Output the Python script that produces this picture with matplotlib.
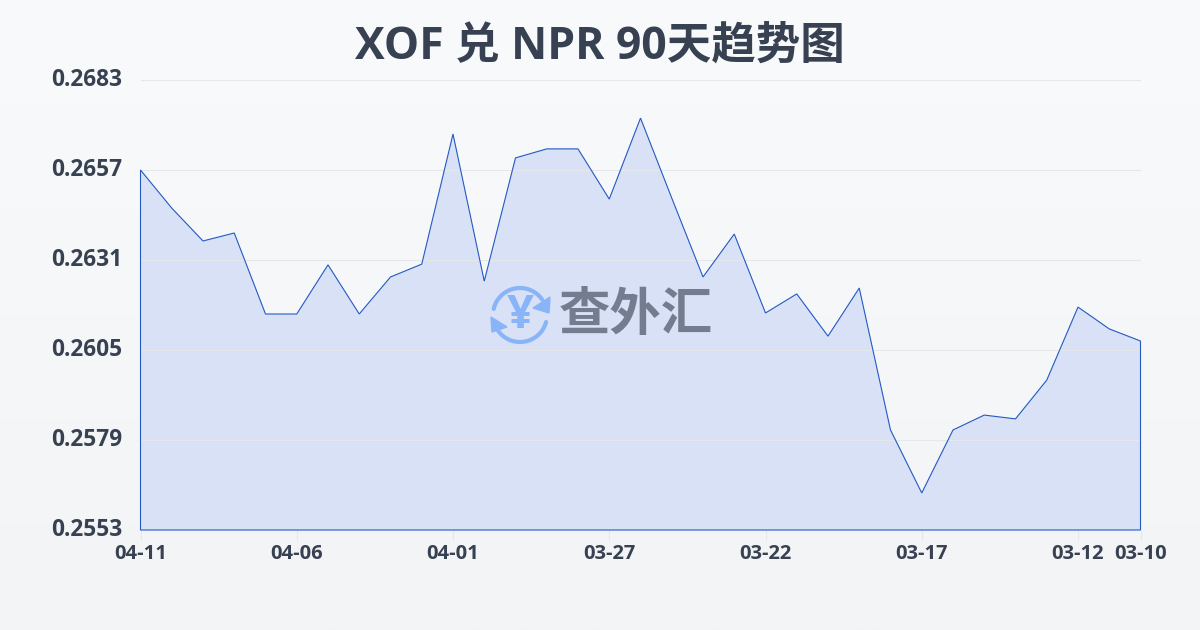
import numpy as np
import matplotlib
matplotlib.use("Agg")
import matplotlib.pyplot as plt
from matplotlib.patches import Polygon
from matplotlib.transforms import ScaledTranslation

plt.rcParams["font.family"] = ["Open Sans", "Noto Sans CJK SC", "DejaVu Sans"]

title = "XOF 兑 NPR 90天趋势图"
dates = ["04-11", "04-10", "04-09", "04-08", "04-07", "04-06", "04-05", "04-04", "04-03", "04-02",
         "04-01", "03-31", "03-30", "03-29", "03-28", "03-27", "03-26", "03-25", "03-24", "03-23",
         "03-22", "03-21", "03-20", "03-19", "03-18", "03-17", "03-16", "03-15", "03-14", "03-13",
         "03-12", "03-11", "03-10"]
rates = [0.26570, 0.26460, 0.26365, 0.26388, 0.26154, 0.26154, 0.26296, 0.26154, 0.26261, 0.26298,
         0.26674, 0.26249, 0.26605, 0.26631, 0.26631, 0.26486, 0.26720, 0.26489, 0.26261, 0.26385,
         0.26157, 0.26212, 0.26090, 0.26229, 0.25819, 0.25637, 0.25819, 0.25862, 0.25851, 0.25963,
         0.26174, 0.26111, 0.26076]
y_ticks = [0.2553, 0.2579, 0.2605, 0.2631, 0.2657, 0.2683]
x_tick_labels = ["04-11", "04-06", "04-01", "03-27", "03-22", "03-17", "03-12", "03-10"]

W, H = 1200, 630
fig = plt.figure(figsize=(12, 6.3), dpi=100)

# page background gradient
bg = fig.add_axes([0, 0, 1, 1], zorder=0)
bg.imshow(np.linspace(0, 1, 256).reshape(-1, 1), aspect="auto", extent=[0, 1, 0, 1],
          cmap=matplotlib.colors.LinearSegmentedColormap.from_list("bg", ["#f9fafb", "#f3f4f6"]))
bg.axis("off")

ax = fig.add_axes([140.5 / W, 1 - 530 / H, 1000 / W, 450 / H], zorder=1)
ax.patch.set_alpha(0)
x = np.arange(len(rates))

# area with vertical gradient, clipped to the series outline
outline = np.column_stack([np.r_[x[0], x, x[-1]], np.r_[y_ticks[0], rates, y_ticks[0]]])
poly = Polygon(outline, closed=True, facecolor="none", edgecolor="none", transform=ax.transData)
ax.add_patch(poly)
fill_cmap = matplotlib.colors.LinearSegmentedColormap.from_list("fill", ["#d8e2f7", "#d9e1f5"])
im = ax.imshow(np.linspace(0, 1, 256).reshape(-1, 1), aspect="auto", cmap=fill_cmap, zorder=1,
               extent=[x[0], x[-1], y_ticks[0], y_ticks[-1]])
im.set_clip_path(poly)
ax.set_xlim(0, len(rates) - 1)
ax.set_ylim(y_ticks[0], y_ticks[-1])

ax.grid(axis="y", color="#e5e7eb", linewidth=0.8, zorder=2)
ax.set_axisbelow(False)
ax.add_patch(Polygon(outline, closed=True, facecolor="none", edgecolor="#2459c4",
                     linewidth=0.8, zorder=3, clip_on=False, joinstyle="miter"))

for s in ax.spines.values():
    s.set_visible(False)

x_ticks = [dates.index(d) for d in x_tick_labels]
ax.set_xticks(x_ticks, x_tick_labels, fontsize=14.5, fontweight="bold", color="#374151")
ax.tick_params(axis="x", length=7, width=0.8, color="#e5e7eb", pad=3)
ax.set_yticks(y_ticks, [f"{v:.4f}" for v in y_ticks], fontsize=16.3, fontweight="bold", color="#374151")
ax.tick_params(axis="y", length=0, pad=13)
shift_up = ScaledTranslation(0, 3 / 100, fig.dpi_scale_trans)
for lab in ax.get_yticklabels():
    lab.set_verticalalignment("center_baseline")
    lab.set_transform(lab.get_transform() + shift_up)

fig.text(0.5, 1 - 47 / H, title, ha="center", va="center", fontsize=32, fontweight="bold", color="#374151")

# watermark logo, pixel coordinates
logo = fig.add_axes([0, 0, 1, 1], zorder=2)
logo.set_xlim(0, W)
logo.set_ylim(H, 0)
logo.axis("off")
blue = "#8ab4f8"
cx, cy, r = 520, 315, 27
for a0, a1 in [(167, 35), (-15, -145)]:
    t = np.radians(np.linspace(a0, a1, 40))
    logo.plot(cx + r * np.cos(t), cy - r * np.sin(t), color=blue, linewidth=3, solid_capstyle="round")
logo.add_patch(Polygon([(550, 297), (549, 313), (533, 308)], closed=True, color=blue))
logo.add_patch(Polygon([(491, 317), (492, 332), (507, 327)], closed=True, color=blue))
logo.text(520, 315, "¥", ha="center", va="center", fontsize=34, fontweight="bold", color=blue)
logo.text(636, 317, "查外汇", ha="center", va="center", fontsize=37, fontweight="bold", color="#747d8f")

fig.savefig("out.png", dpi=100)
